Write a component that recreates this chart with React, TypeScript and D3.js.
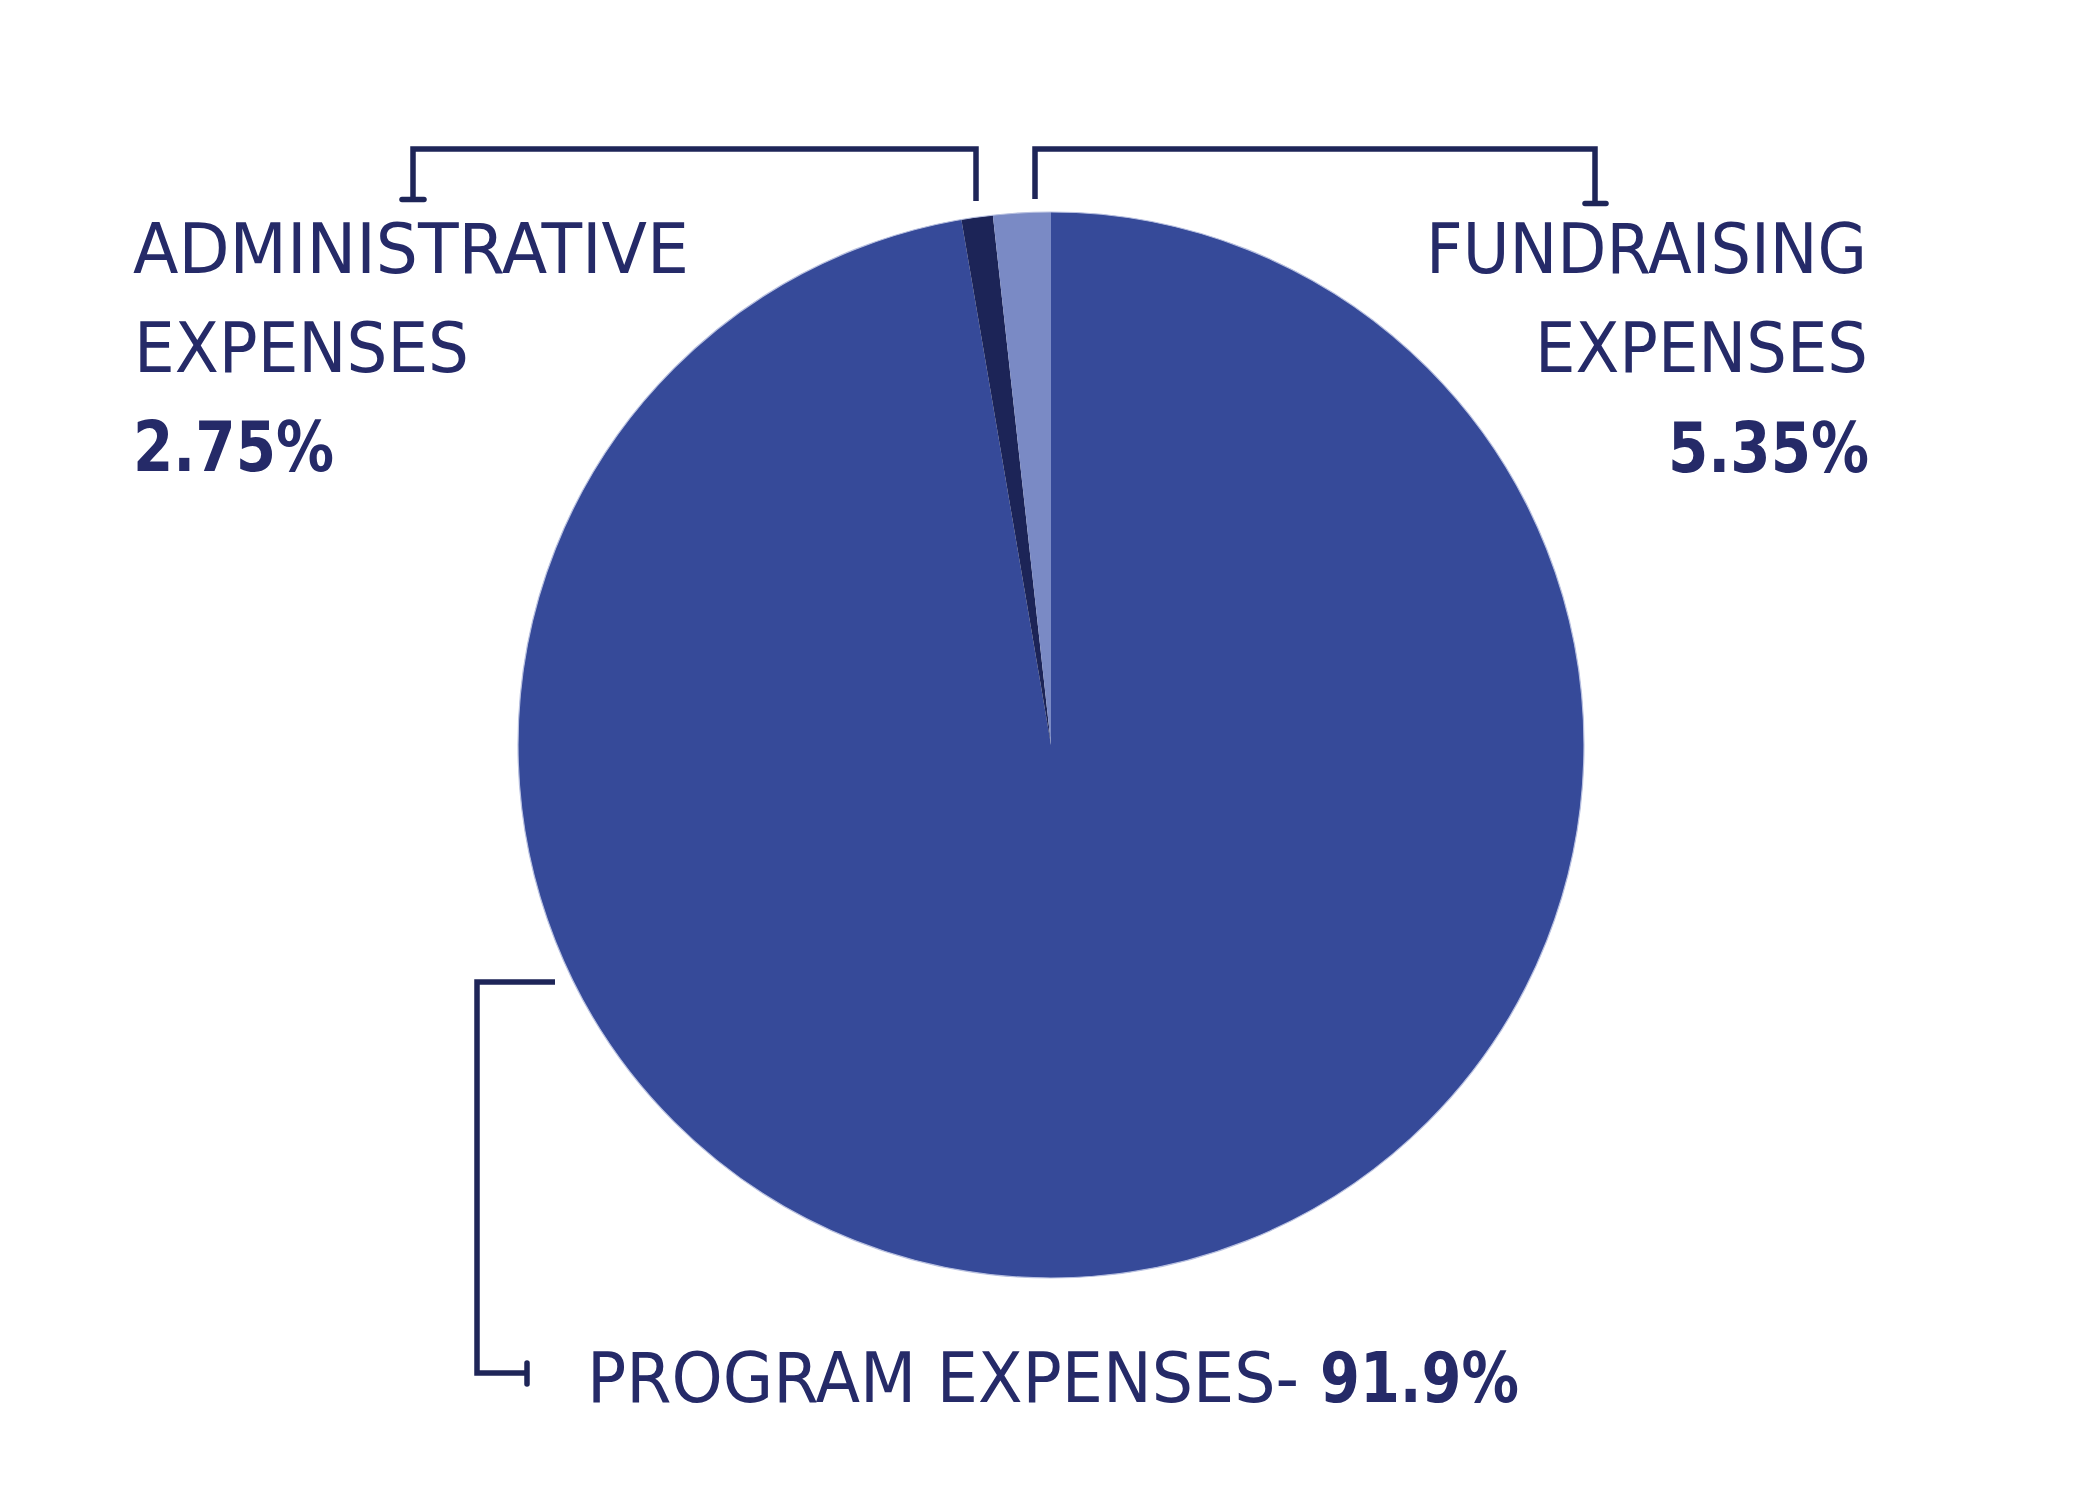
import React from "react";
import * as d3 from "d3";

// Slices as drawn in the picture (shares of the pie)
const categories = ["Program Expenses", "Administrative Expenses", "Fundraising Expenses"];
const sliceValues = [97.31, 0.95, 1.74];
const sliceColors = ["#364a99", "#1c2457", "#7a8ac5"];

// Label texts
const leftLabelLines = ["ADMINISTRATIVE", "EXPENSES"];
const leftPercent = "2.75%";
const rightLabelLines = ["FUNDRAISING", "EXPENSES"];
const rightPercent = "5.35%";
const bottomLabel = "PROGRAM EXPENSES-";
const bottomPercent = "91.9%";

const W = 2100;
const H = 1500;
const CX = 1051;
const CY = 745;
const R = 533;

const TEXT_COLOR = "#252a68";
const LINE_COLOR = "#1e2558";
const FONT = "'Liberation Sans Narrow', 'DejaVu Sans Condensed', 'Open Sans', sans-serif";

export default function App() {
  const pie = d3
    .pie<number>()
    .sort(null)
    .value((d) => d);
  const arcs = pie(sliceValues);
  const arcGen = d3.arc<d3.PieArcDatum<number>>().innerRadius(0).outerRadius(R);

  const sw = 5.5;
  const fs = 70;

  return (
    <svg width={W} height={H} style={{ display: "block", position: "absolute", left: 0, top: 0, background: "#fff" }}>
      <rect width={W} height={H} fill="#ffffff" />
      <g transform={`translate(${CX},${CY})`}>
        {arcs.map((a, i) => (
          <path key={categories[i]} d={arcGen(a) || ""} fill={sliceColors[i]} />
        ))}
        <circle r={R} fill="none" stroke="#b8c0e0" strokeWidth={1.2} />
      </g>

      {/* Administrative bracket */}
      <g fill="none" stroke={LINE_COLOR} strokeWidth={sw}>
        <path d="M976,201 L976,149 L413,149 L413,199" strokeLinejoin="miter" />
        <line x1={402} y1={199.5} x2={424} y2={199.5} strokeLinecap="round" />
        {/* Fundraising bracket */}
        <path d="M1035,199 L1035,149 L1595,149 L1595,203" strokeLinejoin="miter" />
        <line x1={1585} y1={203.5} x2={1606} y2={203.5} strokeLinecap="round" />
        {/* Program bracket */}
        <path d="M555,982 L477,982 L477,1373 L527,1373" strokeLinejoin="miter" />
        <line x1={527} y1={1363} x2={527} y2={1384} strokeLinecap="round" />
      </g>

      <g fill={TEXT_COLOR} fontFamily={FONT} fontSize={fs}>
        <text x={133} y={273} textLength={556} lengthAdjust="spacingAndGlyphs">{leftLabelLines[0]}</text>
        <text x={134} y={372} textLength={335} lengthAdjust="spacingAndGlyphs">{leftLabelLines[1]}</text>
        <text x={133} y={471} fontWeight="bold" textLength={201} lengthAdjust="spacingAndGlyphs">{leftPercent}</text>

        <text x={1426} y={273} textLength={441} lengthAdjust="spacingAndGlyphs">{rightLabelLines[0]}</text>
        <text x={1535} y={372} textLength={333} lengthAdjust="spacingAndGlyphs">{rightLabelLines[1]}</text>
        <text x={1668} y={472} fontWeight="bold" textLength={201} lengthAdjust="spacingAndGlyphs">{rightPercent}</text>

        <text x={587} y={1402} textLength={712} lengthAdjust="spacingAndGlyphs">{bottomLabel}</text>
        <text x={1320} y={1402} fontWeight="bold" textLength={199} lengthAdjust="spacingAndGlyphs">{bottomPercent}</text>
      </g>
    </svg>
  );
}
